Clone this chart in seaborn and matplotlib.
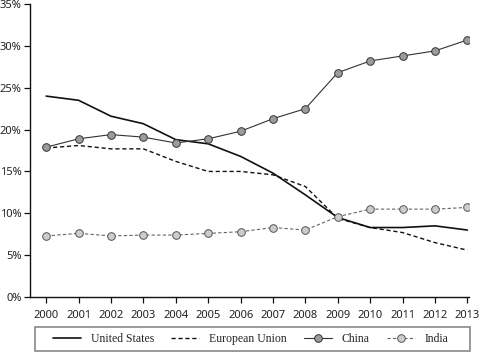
import numpy as np
import pandas as pd
import matplotlib
matplotlib.use("Agg")
import matplotlib.pyplot as plt
import seaborn as sns
from matplotlib.patches import Rectangle
from matplotlib.ticker import PercentFormatter

years = list(range(2000, 2014))
united_states = [24.0, 23.5, 21.6, 20.7, 18.8, 18.3, 16.8, 14.8, 12.2, 9.5, 8.3, 8.3, 8.5, 8.0]
european_union = [17.8, 18.1, 17.7, 17.7, 16.2, 15.0, 15.0, 14.6, 13.2, 9.4, 8.3, 7.7, 6.5, 5.6]
china = [17.9, 18.9, 19.4, 19.1, 18.4, 18.9, 19.8, 21.3, 22.5, 26.8, 28.2, 28.8, 29.4, 30.7]
india = [7.3, 7.6, 7.3, 7.4, 7.4, 7.6, 7.8, 8.3, 8.0, 9.6, 10.5, 10.5, 10.5, 10.7]

df = pd.DataFrame({"year": years, "United States": united_states,
                   "European Union": european_union, "China": china, "India": india})

sns.set_style("ticks")
plt.rcParams["font.family"] = ["Liberation Serif", "DejaVu Serif"]

fig = plt.figure(figsize=(4.8, 3.53), dpi=100)
ax = fig.add_axes([0.0625, 0.1586, 0.9145, 0.830])

sns.lineplot(data=df, x="year", y="United States", ax=ax, color="#111111",
             linewidth=1.2, label="United States")
sns.lineplot(data=df, x="year", y="European Union", ax=ax, color="#111111",
             linewidth=1.0, linestyle=(0, (3, 2)), label="European Union")
sns.lineplot(data=df, x="year", y="China", ax=ax, color="#333333", linewidth=0.8,
             marker="o", markersize=5.5, markerfacecolor="#9c9c9c",
             markeredgecolor="#333333", markeredgewidth=0.7, label="China")
sns.lineplot(data=df, x="year", y="India", ax=ax, color="#666666", linewidth=0.8,
             linestyle=(0, (3, 2)), marker="o", markersize=5.5,
             markerfacecolor="#cccccc", markeredgecolor="#555555",
             markeredgewidth=0.7, label="India")

ax.set_xlim(1999.5, 2013.05)
ax.set_ylim(0, 35)
ax.set_xticks(years)
ax.set_yticks(np.arange(0, 36, 5))
ax.yaxis.set_major_formatter(PercentFormatter(decimals=0))
ax.set_xlabel("")
ax.set_ylabel("")
ax.tick_params(length=4, width=0.9, color="#111111")
ax.tick_params(axis="y", pad=2)
ax.tick_params(axis="x", pad=5)
for lab in ax.get_xticklabels() + ax.get_yticklabels():
    lab.set_fontfamily(["Noto Sans", "DejaVu Sans"])
    lab.set_fontsize(8)
    lab.set_color("#222222")
for side in ["left", "bottom"]:
    ax.spines[side].set_linewidth(1.0)
    ax.spines[side].set_color("#111111")
sns.despine(ax=ax)

# legend content without frame, box drawn separately (frame is wider than the entries)
leg = ax.legend(loc="center left", bbox_to_anchor=(53 / 480, 14 / 353),
                bbox_transform=fig.transFigure, ncol=4, frameon=False, fontsize=8.5,
                handlelength=2.4, handletextpad=0.8, columnspacing=1.45,
                borderpad=0, borderaxespad=0)
fig.patches.append(Rectangle((35 / 480, 2 / 353), 435 / 480, 24 / 353,
                             transform=fig.transFigure, fill=False,
                             edgecolor="#888888", linewidth=1.2))

fig.savefig("out.png", dpi=100)
